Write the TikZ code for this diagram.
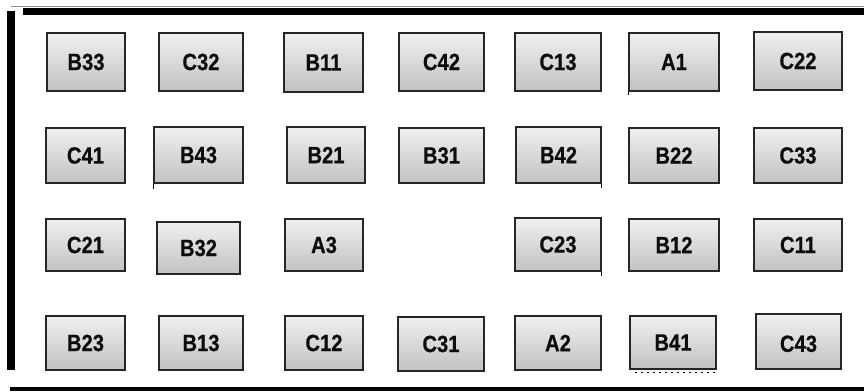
\documentclass[tikz,border=0pt]{standalone}
\usepackage{fontspec}
\newfontfamily\cellfont{Liberation Sans}[UprightFont={* Bold}, FakeStretch=0.86, FakeBold=0.6]
\begin{document}
\begin{tikzpicture}[x=1pt,y=-1pt,
  cell/.style={draw=black!85, line width=1.3pt, top color=black!6, bottom color=black!24,
    inner sep=0pt, font=\cellfont\fontsize{23.5}{27}\selectfont, text=black!95},
  framebar/.style={fill=black, draw=none},
  tick/.style={draw=black, line width=0.6pt}]
\useasboundingbox (0,0) rectangle (864,391);
% frame
\draw[black!45, line width=0.6pt] (11,6) -- (864,6);
\fill[framebar] (23,8) rectangle (864,14.5);
\fill[framebar] (7,11) rectangle (15,370);
\fill[framebar] (10,387) rectangle (864,391);
% row 1
\node[cell, minimum width=78pt, minimum height=58pt] (B33) at (86,62) {B33};
\node[cell, minimum width=84pt, minimum height=58pt] (C32) at (201,62) {C32};
\node[cell, minimum width=79pt, minimum height=59pt] (B11) at (323.5,62.5) {B11};
\node[cell, minimum width=85pt, minimum height=58pt] (C42) at (441.5,62) {C42};
\node[cell, minimum width=86pt, minimum height=58pt] (C13) at (558,62) {C13};
\node[cell, minimum width=90pt, minimum height=58pt] (A1) at (674,62) {A1};
\node[cell, minimum width=88pt, minimum height=58pt] (C22) at (798,61) {C22};
% row 2
\node[cell, minimum width=79pt, minimum height=55pt] (C41) at (85.5,155.5) {C41};
\node[cell, minimum width=89pt, minimum height=56pt] (B43) at (198.5,155) {B43};
\node[cell, minimum width=78pt, minimum height=56pt] (B21) at (326,155) {B21};
\node[cell, minimum width=85pt, minimum height=55pt] (B31) at (441.5,155.5) {B31};
\node[cell, minimum width=85pt, minimum height=56pt] (B42) at (558.5,155) {B42};
\node[cell, minimum width=90pt, minimum height=55pt] (B22) at (674,155.5) {B22};
\node[cell, minimum width=88pt, minimum height=55pt] (C33) at (798,155.5) {C33};
% row 3
\node[cell, minimum width=79pt, minimum height=52pt] (C21) at (85.5,245) {C21};
\node[cell, minimum width=83pt, minimum height=52pt] (B32) at (198.5,248) {B32};
\node[cell, minimum width=78pt, minimum height=52pt] (A3) at (324,245) {A3};
\node[cell, minimum width=86pt, minimum height=53pt] (C23) at (558,244.5) {C23};
\node[cell, minimum width=90pt, minimum height=52pt] (B12) at (674,245) {B12};
\node[cell, minimum width=88pt, minimum height=52pt] (C11) at (798,245) {C11};
% row 4
\node[cell, minimum width=79pt, minimum height=54pt] (B23) at (85.5,343) {B23};
\node[cell, minimum width=84pt, minimum height=54pt] (B13) at (201,343) {B13};
\node[cell, minimum width=78pt, minimum height=54pt] (C12) at (324,343) {C12};
\node[cell, minimum width=86pt, minimum height=54pt] (C31) at (441,344) {C31};
\node[cell, minimum width=86pt, minimum height=54pt, text depth=-4pt] (A2) at (558,343) {A2};
\node[cell, minimum width=86pt, minimum height=53pt] (B41) at (673,342.5) {B41};
\node[cell, minimum width=85pt, minimum height=55pt, text height=21pt] (C43) at (798.5,341.5) {C43};
% small marks
\draw[tick] (A1.south west) -- ++(0,3);
\draw[tick] (B43.south west) -- ++(0,5);
\draw[tick] (B42.south east) -- ++(0,4);
\draw[tick] (C23.south east) -- ++(0,4);
\draw[tick, dash pattern=on 2pt off 4pt] ([xshift=6pt,yshift=-3pt]B41.south west) -- ([xshift=-2pt,yshift=-3pt]B41.south east);
\end{tikzpicture}
\end{document}
